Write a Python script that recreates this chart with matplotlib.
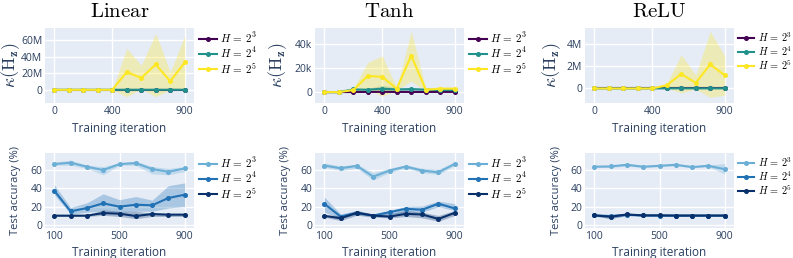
import matplotlib
matplotlib.use("Agg")
import matplotlib.pyplot as plt
from matplotlib.ticker import FuncFormatter

plt.rcParams['mathtext.fontset'] = 'cm'
plt.rcParams['font.family'] = ['Open Sans', 'DejaVu Sans']

# ---- data ----
iters_top = [0, 100, 200, 300, 400, 500, 600, 700, 800, 900]
iters_bot = [100, 200, 300, 400, 500, 600, 700, 800, 900]
labels = [r'$H\,=\,2^3$', r'$H\,=\,2^4$', r'$H\,=\,2^5$']

# condition number, mean / lower / upper
lin_h3 = [0, 0, 0, 0, 0, 0, 0, 0, 0, 0]
lin_h4 = [0, 0, 0, 0, 0, 0.05e6, 0.05e6, 0.05e6, 0.05e6, 0.05e6]
lin_h5 = [0, 0, 0, 0, 0, 21.6e6, 14.4e6, 30.8e6, 10.4e6, 33.2e6]
lin_h5_lo = [0, 0, 0, 0, 0, -8.4e6, 1.0e6, -8.4e6, 0, 0]
lin_h5_hi = [0, 0, 0, 0, 0, 50.4e6, 29.6e6, 68.4e6, 21.6e6, 65.6e6]

tanh_h3 = [0, 0, 100, 150, 200, 150, 150, 100, 150, 200]
tanh_h4 = [0, 0, 2200, 2000, 2800, 2200, 2500, 2000, 1700, 1700]
tanh_h4_lo = [0, 0, 1000, 800, 0, 1000, 1500, 1200, 1000, 1000]
tanh_h4_hi = [0, 0, 3000, 3000, 5600, 3500, 3500, 2800, 2500, 2500]
tanh_h5 = [0, 0, 1700, 13400, 12600, 2800, 30200, 2000, 2800, 2800]
tanh_h5_lo = [0, 0, 500, 2000, -3400, 1500, 9200, 500, 1500, 1500]
tanh_h5_hi = [0, 0, 3000, 24600, 30000, 3600, 50400, 3600, 4200, 4200]

relu_h3 = [0, 0, 0, 0, 0, 0, 0, 0, 0, 0]
relu_h4 = [0, 0, 0, 0, 0, 0.01e6, 0.01e6, 0.01e6, 0.01e6, 0.01e6]
relu_h5 = [0, 0, 0, 0, 0, 0.28e6, 1.3e6, 0.5e6, 2.15e6, 1.17e6]
relu_h5_lo = [0, 0, 0, 0, 0, 0.05e6, -0.4e6, -0.05e6, -0.8e6, -0.6e6]
relu_h5_hi = [0, 0, 0, 0, 0, 0.45e6, 3.0e6, 1.2e6, 5.1e6, 2.9e6]

# test accuracy, mean / lower / upper
acc_lin = [[66.8, 68.3, 63.9, 60.2, 66.8, 67.9, 61.3, 58.3, 62.0],
           [37.4, 14.7, 18.3, 23.5, 19.8, 22.0, 21.3, 29.4, 33.0],
           [9.9, 9.9, 9.9, 12.8, 12.1, 9.5, 11.7, 11.0, 11.0]]
acc_lin_lo = [[65.5, 65.5, 62.0, 55.0, 65.5, 65.5, 56.0, 55.0, 58.5],
              [33.0, 11.7, 13.6, 15.4, 14.0, 14.7, 14.7, 18.3, 20.0],
              [9.0, 9.0, 9.0, 10.3, 9.0, 6.6, 9.0, 9.0, 9.0]]
acc_lin_hi = [[69.0, 71.0, 65.5, 64.0, 68.0, 70.0, 64.0, 62.0, 64.0],
              [44.0, 19.0, 24.0, 34.0, 27.5, 31.0, 27.0, 43.0, 46.0],
              [10.6, 10.6, 11.0, 16.5, 14.7, 14.7, 12.8, 12.5, 12.5]]

acc_tanh = [[65.2, 62.2, 64.8, 52.9, 59.6, 64.1, 59.6, 57.7, 67.0],
            [23.1, 8.9, 13.0, 10.0, 13.8, 17.5, 16.4, 23.1, 17.9],
            [9.7, 7.1, 13.0, 10.0, 8.9, 11.9, 11.2, 6.3, 13.0]]
acc_tanh_lo = [[63.3, 59.6, 62.2, 49.2, 57.4, 62.2, 57.4, 55.1, 65.2],
               [13.8, 7.1, 11.2, 8.9, 11.2, 13.8, 13.8, 19.7, 15.6],
               [8.2, 4.5, 10.4, 8.2, 7.5, 8.9, 7.5, 3.7, 10.1]]
acc_tanh_hi = [[67.8, 64.8, 66.7, 57.4, 62.2, 65.9, 62.2, 61.0, 68.9],
               [30.5, 11.9, 15.6, 11.2, 15.6, 20.1, 20.5, 26.0, 23.1],
               [10.8, 10.0, 15.6, 11.9, 11.9, 15.6, 13.8, 10.1, 15.6]]

acc_relu = [[63.9, 64.2, 66.0, 63.9, 64.9, 66.0, 63.5, 64.9, 61.1],
            [10.2, 9.5, 10.8, 10.2, 10.0, 10.0, 10.0, 10.0, 10.0],
            [10.2, 8.8, 11.2, 10.2, 10.2, 10.0, 10.0, 10.0, 10.0]]
acc_relu_lo = [[62.8, 63.2, 64.5, 62.8, 63.9, 65.0, 62.5, 63.9, 55.8],
               [9.5, 6.7, 10.0, 9.5, 9.5, 9.5, 9.5, 9.5, 9.5],
               [9.5, 6.7, 10.2, 9.5, 9.5, 9.5, 9.5, 9.5, 9.5]]
acc_relu_hi = [[65.0, 65.2, 67.5, 65.0, 65.9, 67.0, 64.5, 65.9, 67.4],
               [10.9, 10.5, 11.5, 10.9, 10.9, 10.5, 10.5, 10.5, 10.5],
               [10.9, 10.5, 11.8, 10.9, 10.9, 10.5, 10.5, 10.5, 10.5]]

titles = ['Linear', 'Tanh', 'ReLU']
top_cols = ['#440154', '#21918c', '#fde725']
bot_cols = ['#6baed6', '#2171b5', '#08306b']
txt = '#2a3f5f'
bg = '#e5ecf6'

W, H = 793, 258
fig = plt.figure(figsize=(W / 100, H / 100), dpi=100)


def px_axes(x0, y0, x1, y1):
    return fig.add_axes([x0 / W, 1 - y1 / H, (x1 - x0) / W, (y1 - y0) / H])


def style(ax):
    ax.set_facecolor(bg)
    for s in ax.spines.values():
        s.set_visible(False)
    ax.grid(True, color='white', lw=1)
    ax.set_axisbelow(True)
    ax.tick_params(length=0, labelsize=7.5, colors=txt, pad=2)


def fmt_si(v, pos):
    if v == 0:
        return '0'
    if abs(v) >= 1e6:
        return '%gM' % (v / 1e6)
    return '%gk' % (v / 1e3)


def add_legend(ax, x, y, size=8):
    # x, y: top-left corner of the legend in pixels
    ax.legend(loc='upper left', bbox_to_anchor=(x / W, 1 - y / H),
              bbox_transform=fig.transFigure, frameon=False,
              fontsize=size, handlelength=1.6, labelspacing=0.05, borderaxespad=0,
              borderpad=0, handletextpad=0.3)


lefts = [45, 315, 585]
# right edge of y-label, pixels left of the axes
kappa_off = [23, 26, 22]
acc_off = [24, 24, 23]
leg_dx = [154, 154, 153]
leg_size = [8, 8, 7.4]

top_data = [
    ([lin_h3, lin_h4, lin_h5], [None, None, (lin_h5_lo, lin_h5_hi)],
     (-16e6, 75e6), [0, 20e6, 40e6, 60e6]),
    ([tanh_h3, tanh_h4, tanh_h5], [None, (tanh_h4_lo, tanh_h4_hi), (tanh_h5_lo, tanh_h5_hi)],
     (-9e3, 53e3), [0, 20e3, 40e3]),
    ([relu_h3, relu_h4, relu_h5], [None, None, (relu_h5_lo, relu_h5_hi)],
     (-1.3e6, 5.4e6), [0, 2e6, 4e6]),
]

for i, (series, bands, ylim, yt) in enumerate(top_data):
    ax = px_axes(lefts[i], 28, lefts[i] + 149, 103)
    style(ax)
    for k in range(3):
        if bands[k] is not None:
            ax.fill_between(iters_top, bands[k][0], bands[k][1], color=top_cols[k],
                            alpha=0.3, lw=0)
        ax.plot(iters_top, series[k], color=top_cols[k], marker='o', ms=2.6, lw=1.5,
                label=labels[k])
    ax.set_xlim(-64, 964)
    ax.set_ylim(*ylim)
    ax.set_xticks([0, 400, 900])
    ax.set_yticks(yt)
    ax.yaxis.set_major_formatter(FuncFormatter(fmt_si))
    ax.set_xlabel('Training iteration', fontsize=8.5, color=txt, labelpad=4)
    ax.set_ylabel(r'$\kappa(\mathrm{H}_{\mathbf{z}})$', fontsize=13, color=txt)
    ax.yaxis.set_label_coords(-kappa_off[i] / 149, 0.5)
    ax.set_title(r'$\mathrm{' + titles[i] + '}$', fontsize=15, pad=8)
    add_legend(ax, lefts[i] + leg_dx[i], 31, leg_size[i])

bot_data = [(acc_lin, acc_lin_lo, acc_lin_hi),
            (acc_tanh, acc_tanh_lo, acc_tanh_hi),
            (acc_relu, acc_relu_lo, acc_relu_hi)]

for i, (m, lo, hi) in enumerate(bot_data):
    ax = px_axes(lefts[i], 153, lefts[i] + 149, 228)
    style(ax)
    for k in range(3):
        ax.fill_between(iters_bot, lo[k], hi[k], color=bot_cols[k], alpha=0.3, lw=0)
        ax.plot(iters_bot, m[k], color=bot_cols[k], marker='o', ms=2.6, lw=1.5,
                label=labels[k])
    ax.set_xlim(43, 957)
    ax.set_ylim(-3.7, 79)
    ax.set_xticks([100, 500, 900])
    ax.set_yticks([0, 20, 40, 60])
    ax.set_xlabel('Training iteration', fontsize=8.5, color=txt, labelpad=3)
    ax.set_ylabel('Test accuracy (%)', fontsize=8, color=txt)
    ax.yaxis.set_label_coords(-acc_off[i] / 149, 0.5)
    add_legend(ax, lefts[i] + leg_dx[i], 156, leg_size[i])

fig.savefig('out.png', dpi=100)
